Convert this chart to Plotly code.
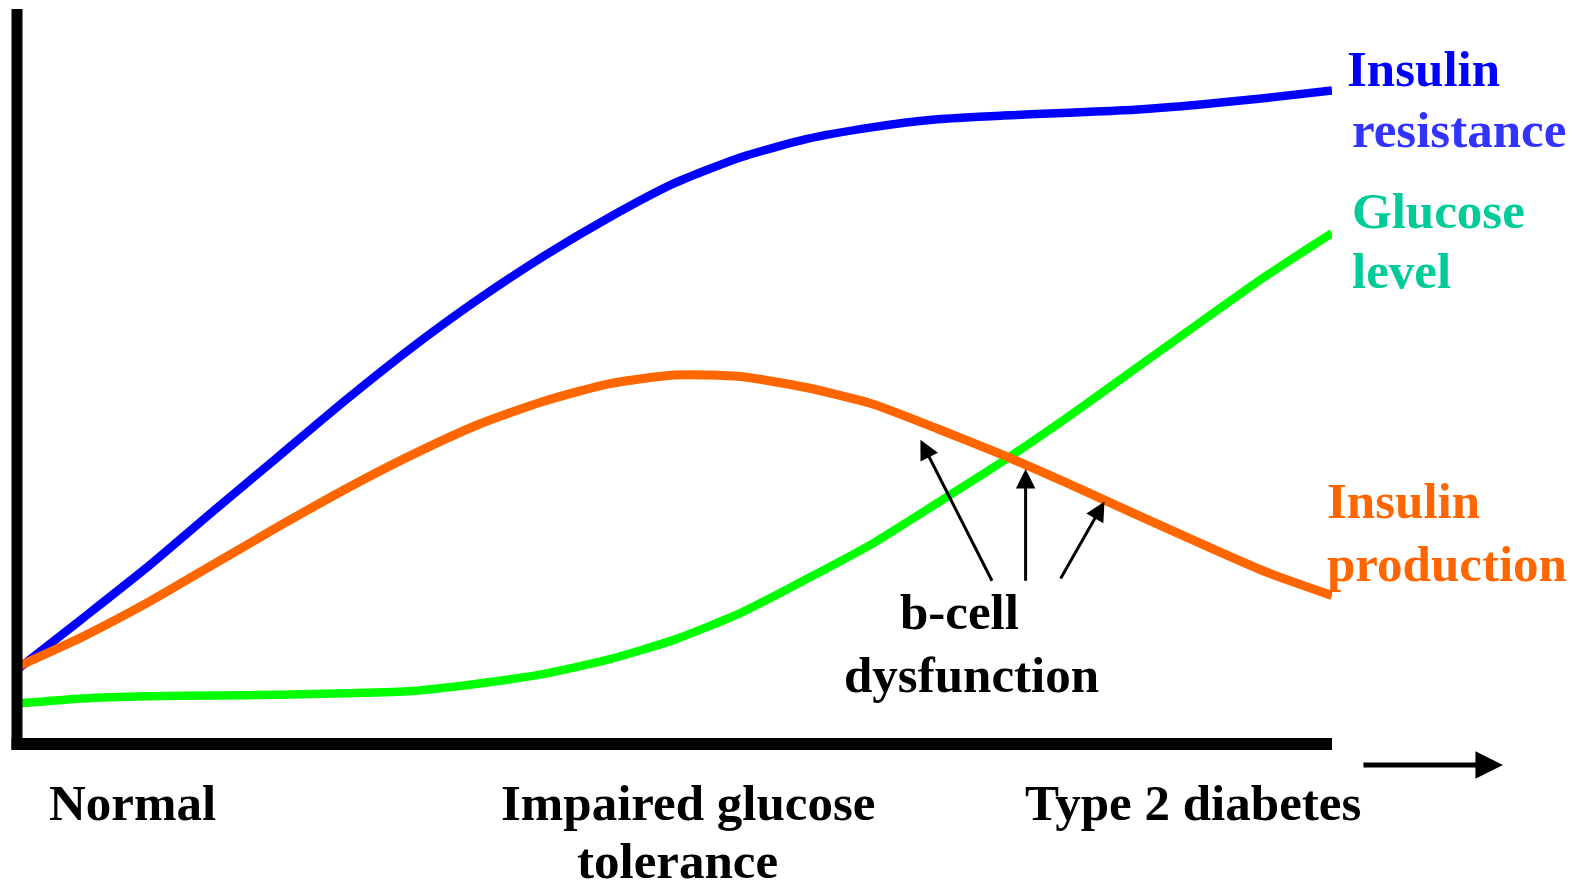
import plotly.graph_objects as go

# Disease progression (0 = normal, 100 = type 2 diabetes), relative level 0-100
progress = [0, 5, 10, 15, 20, 25, 30, 35, 40, 45, 50, 55, 60, 65, 70, 75, 80, 85, 90, 95, 100]
insulin_resistance = [10.1, 17.1, 24.2, 31.8, 39.3, 46.8, 53.9, 60.4, 66.3, 71.6, 76.3, 79.8,
                      82.3, 83.9, 85.0, 85.5, 85.9, 86.3, 87.0, 87.9, 88.9]
insulin_production = [10.5, 14.6, 19.3, 24.5, 29.7, 34.7, 39.3, 43.4, 46.6, 49.0, 50.2, 50.0,
                      48.5, 46.3, 42.9, 39.3, 35.4, 31.3, 27.3, 23.4, 20.2]
glucose_level = [5.5, 6.2, 6.5, 6.6, 6.7, 6.9, 7.2, 8.2, 9.5, 11.5, 14.2, 17.8,
                 22.4, 27.2, 32.8, 38.5, 44.6, 51.0, 57.4, 63.7, 69.5]

stage_labels = ["Normal", "Impaired glucose", "Type 2 diabetes"]
stage_x = [8.8, 51.0, 89.4]
stage2_line2 = "tolerance"

# b-cell dysfunction arrows: (tail x, tail y, tip x, tip y)
arrows = [(74.2, 22.0, 68.7, 41.4), (76.7, 22.0, 76.7, 37.4), (79.3, 22.3, 82.7, 33.0)]

FONT = "Palatino Linotype, Book Antiqua, Palatino, Liberation Serif, serif"
FS = 51

fig = go.Figure()
fig.add_trace(go.Scatter(x=progress, y=insulin_resistance, mode="lines",
                         line=dict(color="#0000FF", width=8.5, shape="spline", smoothing=0.6),
                         cliponaxis=False))
fig.add_trace(go.Scatter(x=progress, y=glucose_level, mode="lines",
                         line=dict(color="#00FF00", width=8.5, shape="spline", smoothing=0.6),
                         cliponaxis=False))
fig.add_trace(go.Scatter(x=progress, y=insulin_production, mode="lines",
                         line=dict(color="#FF6600", width=9, shape="spline", smoothing=0.6),
                         cliponaxis=False))

ann = []
def txt(x, y, s, color="black", xanchor="center"):
    # positions given in axis units (0-100) -> paper coordinates
    ann.append(dict(x=x / 100, y=y / 100, xref="paper", yref="paper", text=s, showarrow=False,
                    xanchor=xanchor, yanchor="middle",
                    font=dict(family=FONT, size=FS, color=color)))

txt(101.0, 91.8, "<b>Insulin</b>", "#0000FF", "left")
txt(101.4, 83.5, "<b>resistance</b>", "#3333FF", "left")
txt(101.4, 72.5, "<b>Glucose</b>", "#00CC99", "left")
txt(101.4, 64.3, "<b>level</b>", "#00CC99", "left")
txt(99.5, 33.1, "<b>Insulin</b>", "#FF6600", "left")
txt(99.5, 24.5, "<b>production</b>", "#FF6600", "left")
txt(71.7, 18.0, "<b>b-cell</b>")
txt(72.6, 9.4, "<b>dysfunction</b>")

txt(stage_x[0], -8.0, "<b>" + stage_labels[0] + "</b>")
txt(stage_x[1], -8.0, "<b>" + stage_labels[1] + "</b>")
txt(50.2, -15.9, "<b>" + stage2_line2 + "</b>")
txt(stage_x[2], -8.0, "<b>" + stage_labels[2] + "</b>")

for (tx, ty, hx, hy) in arrows:
    ann.append(dict(x=hx, y=hy, ax=tx, ay=ty, xref="x", yref="y", axref="x", ayref="y",
                    text="", showarrow=True, arrowhead=2, arrowsize=1.3, arrowwidth=3,
                    arrowcolor="black"))
# progression arrow under the x-axis
ann.append(dict(x=1.130, y=-0.0286, ax=-141, ay=0, xref="paper", yref="paper",
                axref="pixel", ayref="pixel",
                text="", showarrow=True, arrowhead=2, arrowsize=1.1, arrowwidth=5,
                arrowcolor="black"))

shapes = [
    dict(type="line", xref="paper", yref="paper", x0=0, x1=0, y0=-6/735, y1=1,
         line=dict(color="black", width=11)),
    dict(type="line", xref="paper", yref="paper", x0=-5.5/1315, x1=1, y0=0, y1=0,
         line=dict(color="black", width=12)),
]

fig.update_layout(
    width=1580, height=883,
    margin=dict(l=17, r=248, t=9, b=139),
    paper_bgcolor="white", plot_bgcolor="white",
    showlegend=False,
    xaxis=dict(range=[0, 100], visible=False, fixedrange=True),
    yaxis=dict(range=[0, 100], visible=False, fixedrange=True),
    annotations=ann, shapes=shapes,
)

fig.write_html("out.html", config={"displayModeBar": False},
               post_script="document.body.style.margin='0';")
